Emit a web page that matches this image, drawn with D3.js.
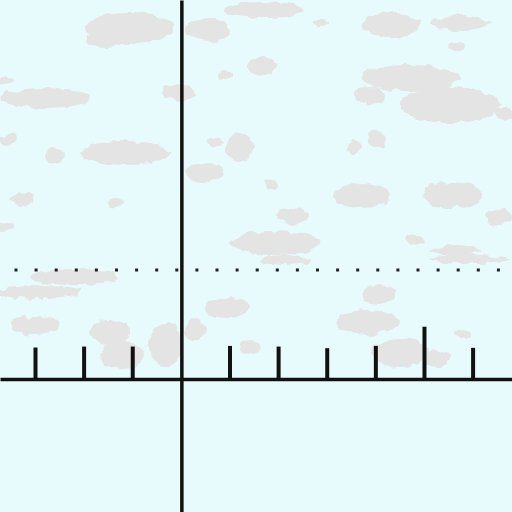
<!DOCTYPE html>
<html>
<head>
<meta charset="utf-8">
<script src="https://cdn.jsdelivr.net/npm/d3@7"></script>
<style>
  html, body { margin: 0; padding: 0; background: #e8fbfc; }
  svg { display: block; }
</style>
</head>
<body>
<svg id="chart" width="512" height="512"></svg>
<script>
// ---- data ----
const spikePositions = [-3, -2, -1, 1, 2, 3, 4, 5, 6];
const spikeHeights   = [0.98, 1.01, 1.01, 1.03, 1.01, 0.96, 1.03, 1.63, 0.97];
const thresholdLevel = 3.4;
const xDomain = [-3.73, 6.80];
const yDomain = [-4.16, 11.84];

// background texture blobs (decoration): [cx, cy, rx, ry]
const cloudBlobs = [
  [130, 28, 45, 16], [105, 40, 20, 8], [208, 30, 22, 12], [265, 10, 40, 7], [322, 22, 8, 4],
  [392, 25, 30, 12], [460, 23, 30, 8], [456, 47, 9, 4], [262, 66, 15, 9], [225, 75, 8, 5],
  [410, 78, 50, 13], [370, 95, 15, 8], [450, 105, 50, 18], [503, 113, 10, 6], [45, 98, 45, 10],
  [5, 82, 7, 5], [178, 92, 16, 9], [125, 153, 45, 12], [55, 156, 10, 7], [8, 139, 9, 6],
  [240, 147, 14, 13], [215, 142, 8, 5], [205, 172, 20, 9], [272, 184, 7, 6], [362, 196, 28, 12],
  [452, 195, 30, 13], [498, 217, 14, 7], [293, 216, 17, 8], [275, 243, 45, 12], [22, 199, 12, 6],
  [6, 227, 8, 5], [116, 203, 8, 5], [377, 140, 9, 9], [354, 147, 6, 7], [415, 240, 10, 5],
  [455, 251, 25, 5], [40, 292, 42, 7], [75, 277, 45, 7], [35, 325, 25, 9], [110, 332, 20, 12],
  [165, 345, 17, 22], [122, 355, 22, 14], [228, 308, 22, 10], [195, 330, 10, 10], [285, 260, 25, 5],
  [368, 322, 32, 12], [378, 295, 17, 10], [400, 353, 28, 14], [437, 359, 12, 8], [462, 333, 8, 4],
  [470, 259, 40, 4], [250, 347, 10, 7]
];

// ---- chart ----
const W = 512, H = 512;
const svg = d3.select("#chart");
const x = d3.scaleLinear().domain(xDomain).range([0, W]);
const y = d3.scaleLinear().domain(yDomain).range([H, 0]);

const defs = svg.append("defs");
const f = defs.append("filter").attr("id", "rough")
  .attr("x", "-20%").attr("y", "-20%").attr("width", "140%").attr("height", "140%");
f.append("feTurbulence").attr("type", "fractalNoise").attr("baseFrequency", 0.09)
  .attr("numOctaves", 2).attr("seed", 3).attr("result", "noise");
f.append("feDisplacementMap").attr("in", "SourceGraphic").attr("in2", "noise")
  .attr("scale", 9).attr("xChannelSelector", "R").attr("yChannelSelector", "G");

svg.append("rect").attr("width", W).attr("height", H).attr("fill", "#e8fbfc");

svg.append("g").attr("filter", "url(#rough)")
  .selectAll("ellipse").data(cloudBlobs).join("ellipse")
  .attr("cx", d => d[0]).attr("cy", d => d[1])
  .attr("rx", d => d[2]).attr("ry", d => d[3])
  .attr("fill", "#e4e4e4");

// dotted threshold line
svg.append("line")
  .attr("x1", 14.5).attr("x2", W)
  .attr("y1", y(thresholdLevel)).attr("y2", y(thresholdLevel))
  .attr("stroke", "#222").attr("stroke-width", 3)
  .attr("stroke-dasharray", "3 17.1");

// axes
svg.append("g").attr("transform", `translate(0,${y(0)})`)
  .call(d3.axisBottom(x).ticks(0).tickSizeOuter(0));
svg.append("g").attr("transform", `translate(${x(0)},0)`)
  .call(d3.axisLeft(y).ticks(0).tickSizeOuter(0));
svg.selectAll(".domain").attr("stroke", "#111").attr("stroke-width", 3.5);

// spikes
const spikes = spikePositions.map((p, i) => ({ p, h: spikeHeights[i] }));
svg.append("g").selectAll("line").data(spikes).join("line")
  .attr("x1", d => x(d.p)).attr("x2", d => x(d.p))
  .attr("y1", y(0)).attr("y2", d => y(d.h))
  .attr("stroke", "#111").attr("stroke-width", 4);
</script>
</body>
</html>
